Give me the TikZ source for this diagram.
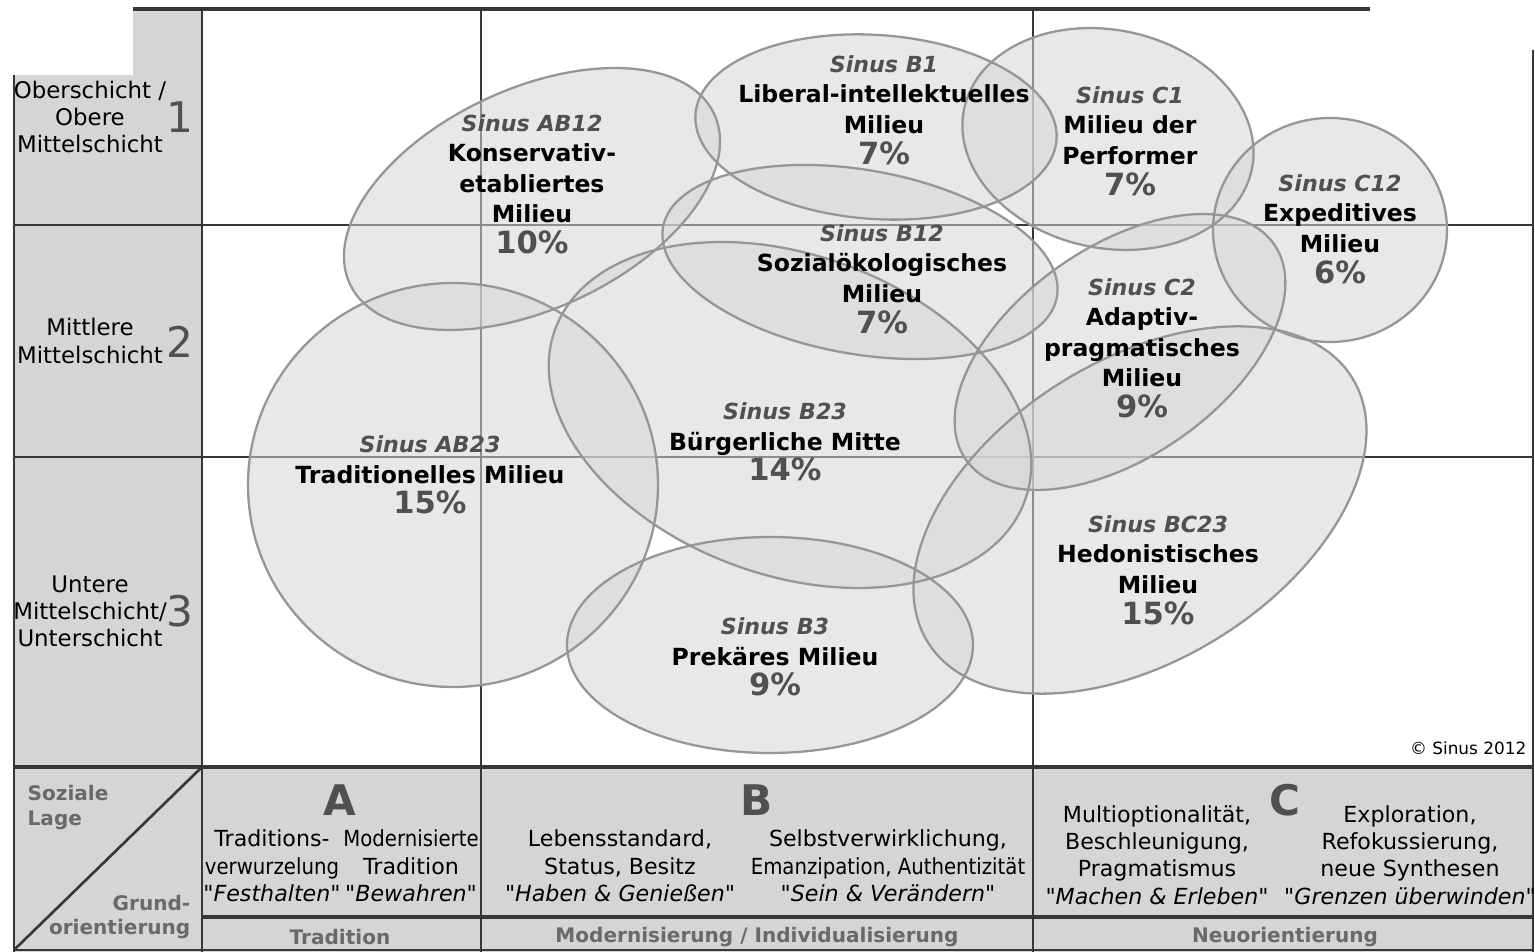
\documentclass[tikz,border=0pt]{standalone}
\usepackage{fontspec}
\usepackage{graphicx}
\setmainfont{DejaVu Sans}
\usetikzlibrary{positioning}

\definecolor{panel}{RGB}{213,213,213}
\definecolor{rulegray}{RGB}{55,55,55}
\definecolor{blob}{RGB}{213,213,213}
\definecolor{blobline}{RGB}{150,150,150}
\definecolor{softtext}{RGB}{80,80,80}
\definecolor{paletext}{RGB}{105,105,105}

\newcommand\msname{\fontsize{6.7}{8.7}\selectfont\bfseries}
\newcommand\mssinus[1]{{\fontsize{6.3}{8.7}\selectfont\bfseries\itshape\color{softtext}#1}}
\newcommand\mspct[1]{{\fontsize{8.7}{8.7}\selectfont\bfseries\color{softtext}#1}}
\newcommand\squeeze[1]{\scalebox{0.89}[1]{#1}}
\newcommand\motto[1]{\textit{\textquotedbl#1\textquotedbl}}

% cx/cy/rx/ry/rotation of the milieu ellipses (pixel units)
\newcommand\milieulist{532/199/201/110/25, 876/127/181/92/-4, 1108/139/147/109/-12,
  1330/230/117/112/0, 860/262/200/92/-10, 1120/352/188/105/35,
  790/415/250/160/-20, 453/485/205/202/0, 770/645/203/108/0, 1140/510/250/150/32}

\tikzset{
  gridrule/.style={draw=rulegray, line width=0.75pt},
  milieu/.style={fill=blob, fill opacity=0.55},
  milieurim/.style={draw=blobline, line width=0.65pt},
  milieutext/.style={align=center, font=\msname, inner sep=0pt},
  rowtext/.style={align=center, font=\fontsize{6.5}{7.7}\selectfont, inner sep=0pt},
  rownum/.style={font=\fontsize{12}{12}\selectfont, text=softtext, inner sep=0pt},
  colletter/.style={font=\fontsize{12}{12}\selectfont\bfseries, text=softtext, inner sep=0pt},
  coltext/.style={align=center, font=\fontsize{6.3}{7.8}\selectfont, inner sep=0pt},
  axistext/.style={font=\fontsize{5.7}{7}\selectfont\bfseries, text=paletext, inner sep=0pt},
}

\begin{document}
\begin{tikzpicture}[x=0.01cm, y=-0.01cm]
\useasboundingbox (0,0) rectangle (1535,952);

% panels
\fill[panel] (14,75) rectangle (202,767);
\fill[panel] (133,9) rectangle (202,75);
\fill[panel] (14,767) rectangle (1533,952);

% grid
\draw[gridrule, line width=1.3pt] (133,9) -- (1370,9);
\foreach \x in {202,481,1033}
  \draw[gridrule] (\x,9) -- (\x,952);
\foreach \y in {225,457}
  \draw[gridrule] (14,\y) -- (1533,\y);
\draw[gridrule, line width=1.2pt] (14,767) -- (1533,767);
\draw[gridrule, line width=1pt] (202,917) -- (1533,917);
\draw[gridrule] (14,75) -- (14,952);
\draw[gridrule] (1533,50) -- (1533,952);
\draw[gridrule] (14,950) -- (1533,950);
\draw[gridrule] (14,950) -- (202,767);

% milieus
\foreach \cx/\cy/\rx/\ry/\rot in \milieulist
  \fill[milieu, rotate around={\rot:(\cx,\cy)}] (\cx,\cy) ellipse [x radius=\rx, y radius=\ry];
\foreach \cx/\cy/\rx/\ry/\rot in \milieulist
  \draw[milieurim, rotate around={\rot:(\cx,\cy)}] (\cx,\cy) ellipse [x radius=\rx, y radius=\ry];

\node[milieutext] (ab12) at (532,184) {\mssinus{Sinus AB12}\\Konservativ-\\etabliertes\\Milieu\\\mspct{10\%}};
\node[milieutext] (b1) at (884,110) {\mssinus{Sinus B1}\\Liberal-intellektuelles\\Milieu\\\mspct{7\%}};
\node[milieutext] (c1) at (1130,141) {\mssinus{Sinus C1}\\Milieu der\\Performer\\\mspct{7\%}};
\node[milieutext] (c12) at (1340,229) {\mssinus{Sinus C12}\\Expeditives\\Milieu\\\mspct{6\%}};
\node[milieutext] (b12) at (882,279) {\mssinus{Sinus B12}\\Sozialökologisches\\Milieu\\\mspct{7\%}};
\node[milieutext] (c2) at (1142,348) {\mssinus{Sinus C2}\\Adaptiv-\\pragmatisches\\Milieu\\\mspct{9\%}};
\node[milieutext] (b23) at (785,442) {\mssinus{Sinus B23}\\Bürgerliche Mitte\\\mspct{14\%}};
\node[milieutext] (ab23) at (430,475) {\mssinus{Sinus AB23}\\Traditionelles Milieu\\\mspct{15\%}};
\node[milieutext] (bc23) at (1158,570) {\mssinus{Sinus BC23}\\Hedonistisches\\Milieu\\\mspct{15\%}};
\node[milieutext] (b3) at (775,657) {\mssinus{Sinus B3}\\Prekäres Milieu\\\mspct{9\%}};

% social layers
\node[rowtext] (upper) at (90,117) {Oberschicht /\\Obere\\Mittelschicht};
\node[rownum] (num1) at (180,117) {1};
\node[rowtext] (middle) at (90,341) {Mittlere\\Mittelschicht};
\node[rownum] (num2) at (180,342) {2};
\node[rowtext] (lower) at (90,611) {Untere\\Mittelschicht/\\Unterschicht};
\node[rownum] (num3) at (180,611) {3};

% orientation
\node[axistext, align=left, anchor=north west] (lage) at (27,785) {Soziale\\Lage};
\node[axistext, align=right, anchor=east] (grund) at (191,917) {Grund-\\orientierung};
\node[colletter] (letterA) at (340,800) {A};
\node[colletter] (letterB) at (757,800) {B};
\node[colletter] (letterC) at (1285,800) {C};
\node[coltext] (roots) at (272,866) {Traditions-\\\squeeze{verwurzelung}\\\motto{Festhalten}};
\node[coltext] (modtrad) at (411,866) {\squeeze{Modernisierte}\\Tradition\\\motto{Bewahren}};
\node[coltext] (haben) at (620,866) {Lebensstandard,\\Status, Besitz\\\motto{Haben \& Genießen}};
\node[coltext] (sein) at (888,866) {Selbstverwirklichung,\\\squeeze{Emanzipation, Authentizität}\\\motto{Sein \& Verändern}};
\node[coltext] (machen) at (1157,855) {Multioptionalität,\\Beschleunigung,\\Pragmatismus\\\motto{Machen \& Erleben}};
\node[coltext] (grenzen) at (1410,855) {Exploration,\\Refokussierung,\\neue Synthesen\\\motto{Grenzen überwinden}};
\node[axistext] (tradition) at (340,937) {Tradition};
\node[axistext] (modern) at (757,937) {Modernisierung / Individualisierung};
\node[axistext] (neu) at (1285,937) {Neuorientierung};
\node[font=\fontsize{4.8}{5}\selectfont, anchor=east, inner sep=0pt] (copy) at (1527,748) {© Sinus 2012};
\end{tikzpicture}
\end{document}
